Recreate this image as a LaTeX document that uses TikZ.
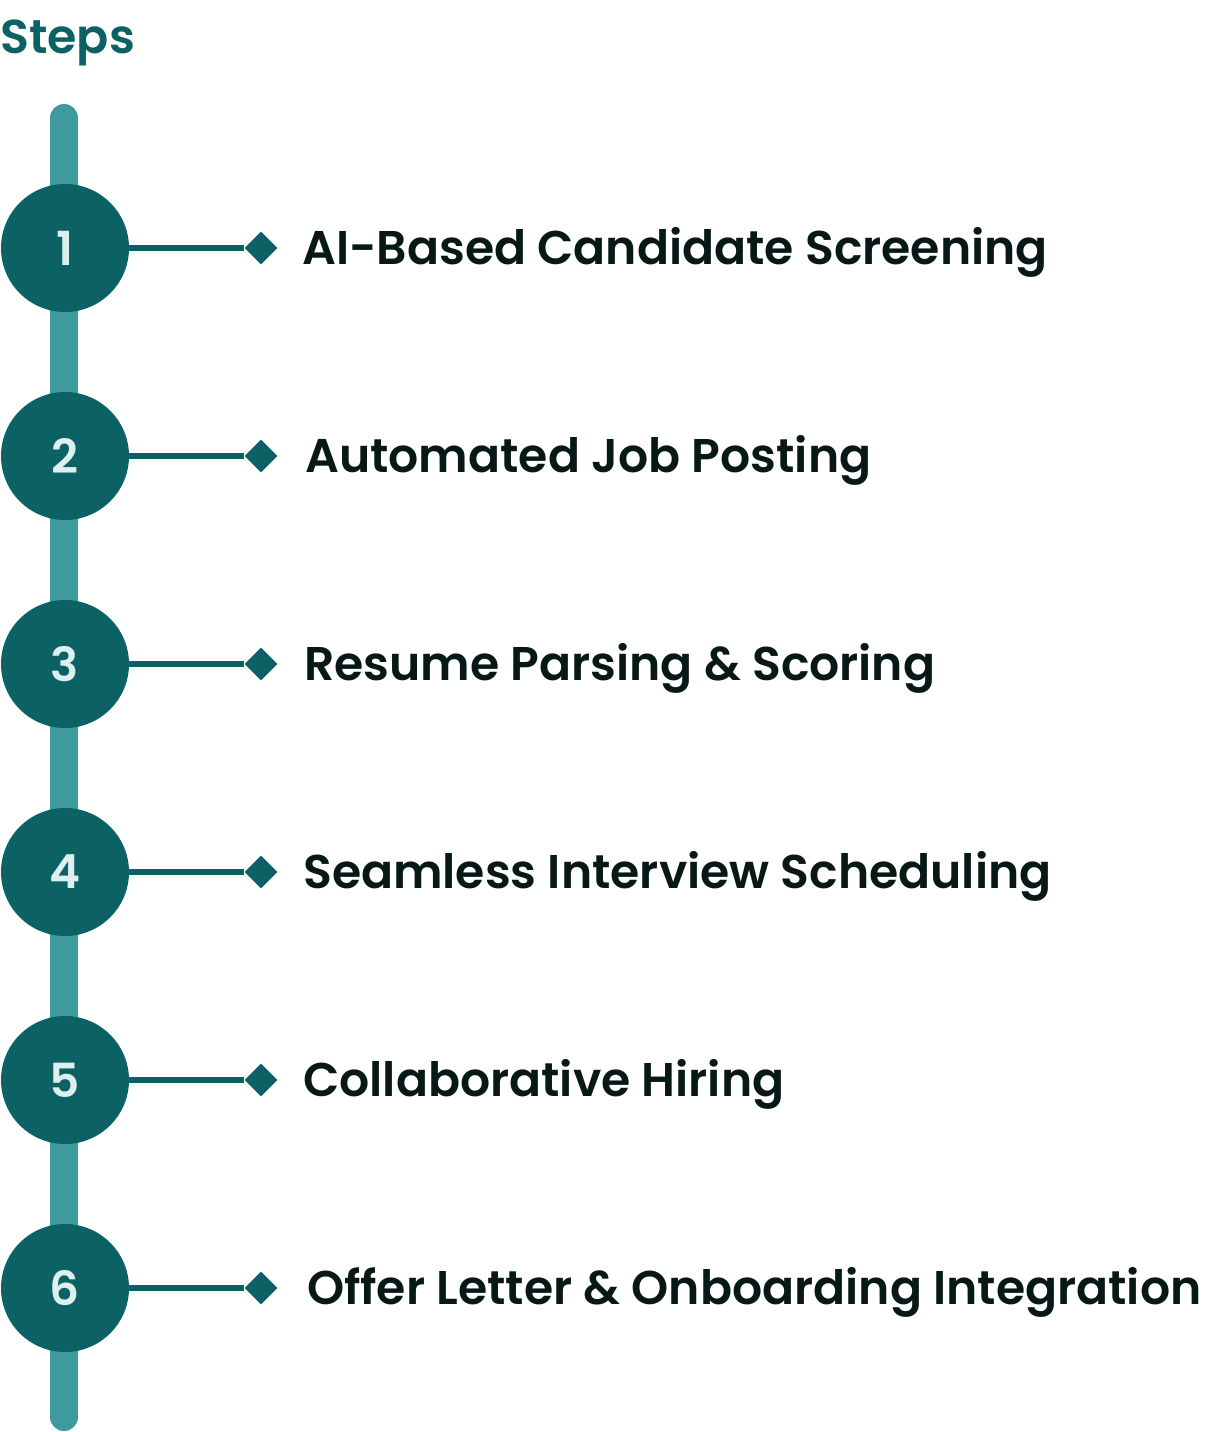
\documentclass[tikz,border=0pt]{standalone}
\usepackage{fontspec}
\setmainfont{Poppins SemiBold}
\usetikzlibrary{shapes.geometric}
\definecolor{dark}{HTML}{0B6163}
\definecolor{bar}{HTML}{3E9B9D}
\definecolor{num}{HTML}{DDEFEE}
\definecolor{ink}{HTML}{081816}
\tikzset{
  stepcircle/.style={circle, fill=dark, minimum size=128pt, inner sep=0pt, text=num, font=\fontsize{47}{52}\selectfont},
  tip/.style={diamond, fill=dark, minimum size=33pt, inner sep=0pt},
  link/.style={draw=dark, line width=5.5pt},
  label/.style={anchor=base west, inner sep=0pt, text=ink, font=\fontsize{47.3}{52}\selectfont},
}
\begin{document}
\begin{tikzpicture}[x=1pt,y=-1pt]
\useasboundingbox (0,0) rectangle (1207,1432);
\node[anchor=base west, inner sep=0pt, text=dark, font=\fontsize{47.5}{52}\selectfont] (title) at (0,53) {Steps};
\coordinate (bartop) at (64,118);
\coordinate (barbot) at (64,1417);
\draw[bar, line width=28pt, line cap=round] (bartop) -- (barbot);
\foreach \i/\t/\tx [count=\k from 0] in {1/AI-Based Candidate Screening/302, 2/Automated Job Posting/305, 3/Resume Parsing \& Scoring/304, 4/Seamless Interview Scheduling/303, 5/Collaborative Hiring/303, 6/Offer Letter \& Onboarding Integration/307}{
  \pgfmathsetmacro{\cy}{248+208*\k}
  \node[stepcircle] (c\i) at (65,\cy) {\i};
  \node[tip] (d\i) at (261,\cy) {};
  \draw[link] (c\i.east) -- (d\i.west);
  \node[label] (t\i) at (\tx,\cy+16) {\t};
}
\end{tikzpicture}
\end{document}
